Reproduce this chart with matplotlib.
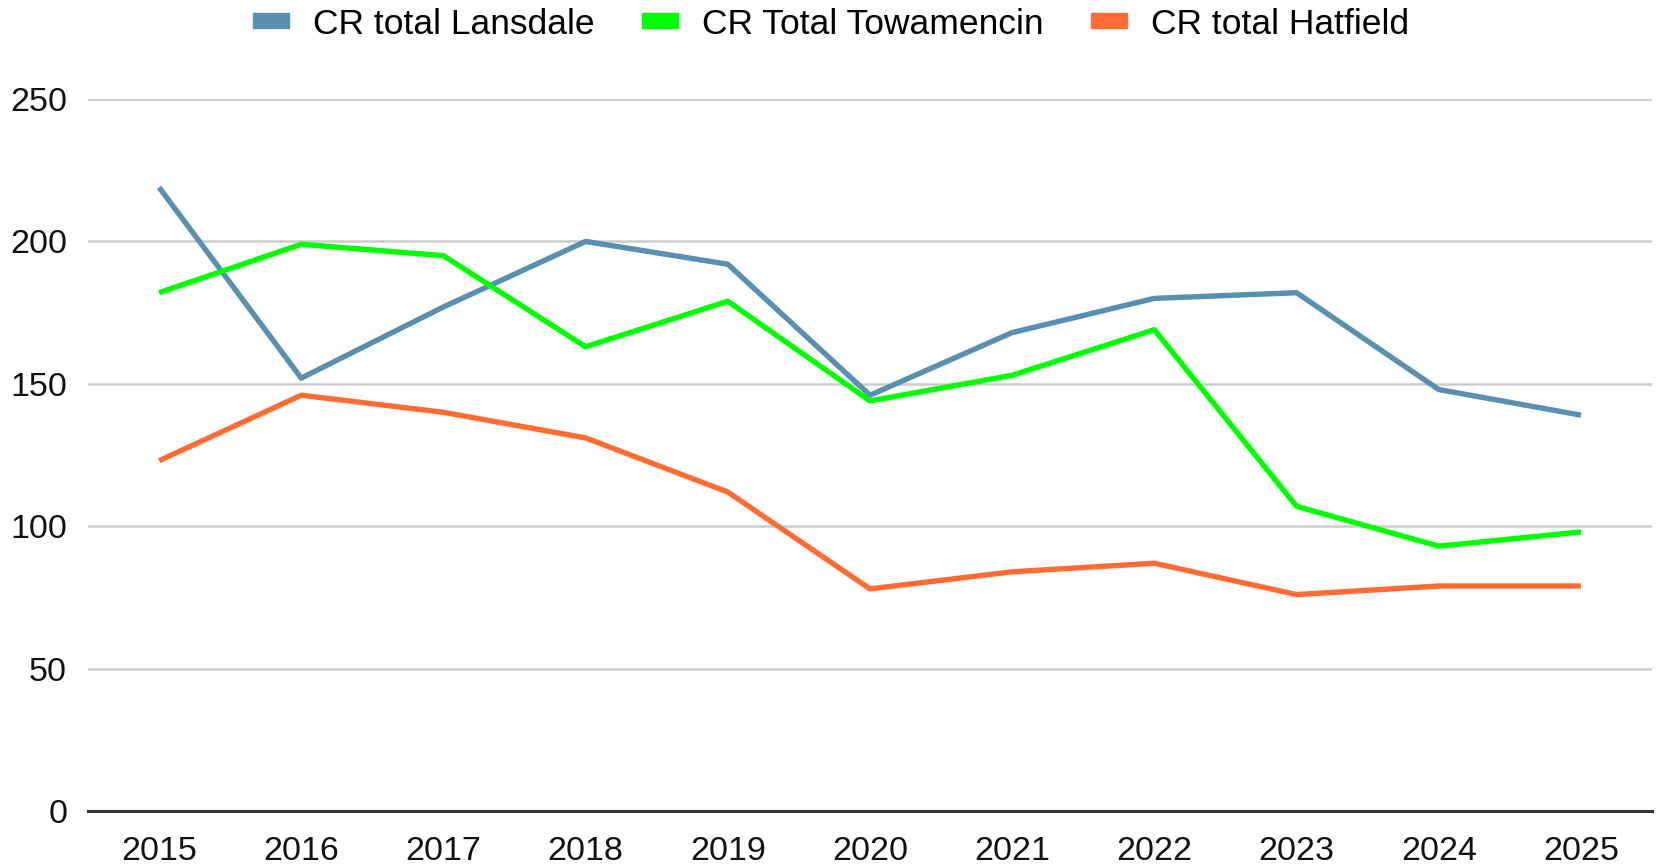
import matplotlib
matplotlib.use("Agg")
import matplotlib.pyplot as plt
from matplotlib.patches import Patch

plt.rcParams['font.family'] = ['Liberation Sans', 'DejaVu Sans']

years = [2015, 2016, 2017, 2018, 2019, 2020, 2021, 2022, 2023, 2024, 2025]
lansdale = [219, 152, 177, 200, 192, 146, 168, 180, 182, 148, 139]
towamencin = [182, 199, 195, 163, 179, 144, 153, 169, 107, 93, 98]
hatfield = [123, 146, 140, 131, 112, 78, 84, 87, 76, 79, 79]

series = [
    ("CR total Lansdale", lansdale, "#5a90af"),
    ("CR Total Towamencin", towamencin, "#00ff00"),
    ("CR total Hatfield", hatfield, "#ff6d34"),
]

fig = plt.figure(figsize=(16.57, 8.65), dpi=100)
ax = fig.add_axes([0.0531, 0.0624, 0.9439, 0.8231])

x = list(range(len(years)))
for name, vals, col in series:
    ax.plot(x, vals, color=col, lw=3.9, solid_capstyle='butt', solid_joinstyle='round', label=name)

ax.set_xlim(-0.5, len(years) - 0.5)
ax.set_ylim(0, 250)
ax.set_yticks([0, 50, 100, 150, 200, 250])
ax.set_xticks(x)
ax.set_xticklabels([str(y) for y in years])
ax.grid(axis='y', color='#cccccc', lw=1.8)
ax.set_axisbelow(True)
for s in ['top', 'right', 'left']:
    ax.spines[s].set_visible(False)
ax.spines['bottom'].set_color('#333333')
ax.spines['bottom'].set_linewidth(2.2)
ax.tick_params(axis='both', length=0, labelsize=24.5, colors='#111111')
ax.tick_params(axis='x', pad=18)
ax.tick_params(axis='y', pad=15)

handles = [Patch(color=c, label=n) for n, _, c in series]
fig.legend(handles=handles, loc='center', bbox_to_anchor=(0.5016, 0.972), ncol=3,
           frameon=False, fontsize=25.5, handlelength=1.0, handleheight=0.27,
           columnspacing=1.35, handletextpad=0.68)

fig.savefig("out.png", dpi=100)
